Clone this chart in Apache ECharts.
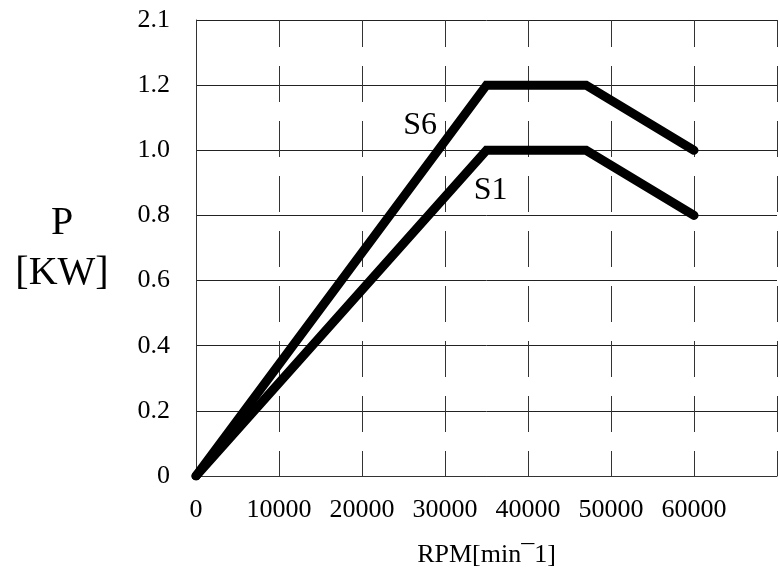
<!DOCTYPE html>
<html>
<head>
<meta charset="utf-8">
<script src="https://cdn.jsdelivr.net/npm/echarts@6/dist/echarts.min.js"></script>
<style>
html,body{margin:0;padding:0;background:#fff;}
#chart{width:780px;height:573px;}
</style>
</head>
<body>
<div id="chart"></div>
<script>
// Data
var rpm = [0, 35000, 47000, 60000];
var s6 = [0, 1.2, 1.2, 1.0];
var s1 = [0, 1.0, 1.0, 0.8];
var yTickLabels = ['0', '0.2', '0.4', '0.6', '0.8', '1.0', '1.2', '2.1'];
var xTickLabels = ['0', '10000', '20000', '30000', '40000', '50000', '60000'];
var seriesNames = ['S6', 'S1'];
var labelPosS6 = [27000, 1.075];
var labelPosS1 = [35500, 0.875];

function pairs(xs, ys) {
  return xs.map(function (x, i) { return [x, ys[i]]; });
}

var FONT = 'Liberation Serif';
var chart = echarts.init(document.getElementById('chart'));

function lineSeries(name, ys, labelPos) {
  return {
    name: name,
    type: 'line',
    data: pairs(rpm, ys),
    symbol: 'none',
    silent: true,
    animation: false,
    lineStyle: { color: '#000', width: 9, cap: 'round', join: 'miter' },
    markPoint: {
      symbol: 'circle',
      symbolSize: 0,
      silent: true,
      animation: false,
      data: [{
        coord: labelPos,
        label: {
          show: true,
          formatter: name,
          color: '#000',
          fontFamily: FONT,
          fontSize: 32,
          position: 'inside'
        }
      }]
    }
  };
}

chart.setOption({
  backgroundColor: '#fff',
  animation: false,
  grid: { left: 196, top: 20, bottom: 91, right: -9, containLabel: false },
  xAxis: {
    type: 'value',
    min: 0,
    max: 70000,
    interval: 10000,
    name: 'RPM[min\u00AF1]',
    nameLocation: 'middle',
    nameGap: 66,
    nameTextStyle: { color: '#000', fontFamily: FONT, fontSize: 26 },
    axisLine: { show: true, lineStyle: { color: '#333', width: 1 } },
    axisTick: { show: false },
    axisLabel: {
      color: '#000', fontFamily: FONT, fontSize: 26, margin: 21,
      formatter: function (v) {
        var i = Math.round(v / 10000);
        return i < xTickLabels.length ? xTickLabels[i] : '';
      }
    },
    splitLine: {
      show: true,
      lineStyle: { color: '#333', width: 1, type: [36, 19], dashOffset: 9 }
    }
  },
  yAxis: {
    type: 'value',
    min: 0,
    max: 1.4,
    interval: 0.2,
    name: 'P\n[KW]',
    nameLocation: 'middle',
    nameRotate: 0,
    nameGap: 134,
    nameTextStyle: {
      color: '#000', fontFamily: FONT, fontSize: 40, lineHeight: 50,
      align: 'center', padding: [0, 0, 26, 0]
    },
    axisLine: { show: true, lineStyle: { color: '#333', width: 1 } },
    axisTick: { show: false },
    axisLabel: {
      color: '#000', fontFamily: FONT, fontSize: 26, margin: 26,
      formatter: function (v) {
        return yTickLabels[Math.round(v / 0.2)];
      }
    },
    splitLine: { show: true, lineStyle: { color: '#222', width: 1, type: 'solid' } }
  },
  series: [
    lineSeries(seriesNames[0], s6, labelPosS6),
    lineSeries(seriesNames[1], s1, labelPosS1)
  ]
});
</script>
</body>
</html>
